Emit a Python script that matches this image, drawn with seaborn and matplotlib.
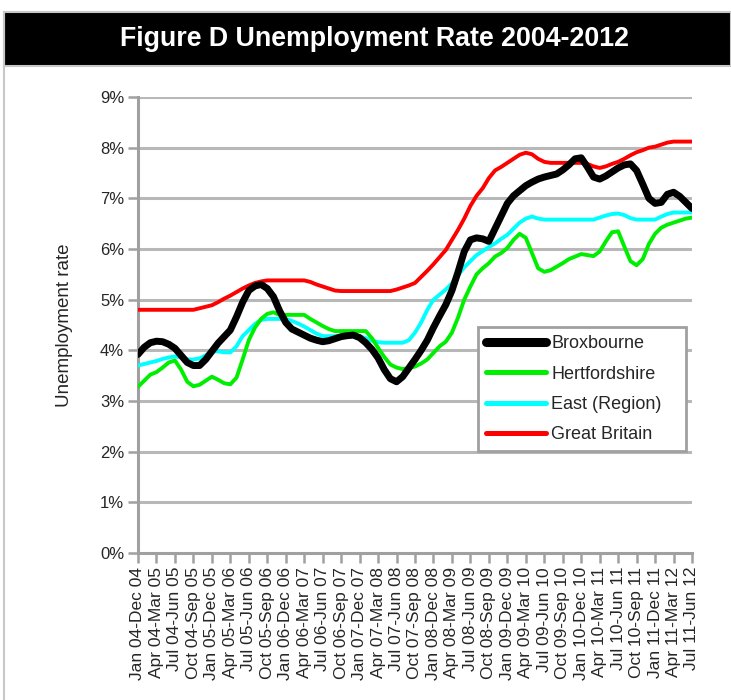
import numpy as np
import pandas as pd
import seaborn as sns
import matplotlib
matplotlib.use("Agg")
import matplotlib.pyplot as plt
from matplotlib.lines import Line2D
from matplotlib.patches import Rectangle

# Rolling 12-month unemployment rate (%), one value per month,
# from Jan 04-Dec 04 through Jul 11-Jun 12 (91 periods)
broxbourne = [
    3.92, 4.06, 4.15, 4.18, 4.17, 4.12, 4.04, 3.90, 3.76, 3.70,
    3.70, 3.82, 3.98, 4.14, 4.27, 4.40, 4.66, 4.95, 5.18, 5.27,
    5.30, 5.22, 5.06, 4.78, 4.55, 4.42, 4.36, 4.30, 4.24, 4.20,
    4.17, 4.19, 4.23, 4.27, 4.29, 4.30, 4.25, 4.15, 4.02, 3.85,
    3.62, 3.44, 3.38, 3.48, 3.65, 3.82, 4.00, 4.20, 4.45, 4.68,
    4.90, 5.18, 5.55, 5.95, 6.18, 6.22, 6.20, 6.15, 6.40, 6.65,
    6.90, 7.05, 7.15, 7.25, 7.32, 7.38, 7.42, 7.45, 7.48, 7.56,
    7.66, 7.78, 7.80, 7.62, 7.42, 7.38, 7.44, 7.52, 7.60, 7.66,
    7.68, 7.55, 7.28, 7.00, 6.90, 6.92, 7.08, 7.12, 7.04, 6.92,
    6.80,
]
hertfordshire = [
    3.28, 3.40, 3.52, 3.57, 3.66, 3.76, 3.80, 3.62, 3.38, 3.29,
    3.32, 3.40, 3.48, 3.42, 3.35, 3.33, 3.46, 3.82, 4.20, 4.45,
    4.62, 4.72, 4.75, 4.70, 4.70, 4.70, 4.70, 4.70, 4.62, 4.55,
    4.48, 4.42, 4.38, 4.38, 4.38, 4.38, 4.38, 4.38, 4.24, 4.05,
    3.87, 3.72, 3.66, 3.63, 3.65, 3.68, 3.74, 3.82, 3.95, 4.08,
    4.17, 4.35, 4.65, 5.00, 5.26, 5.50, 5.62, 5.72, 5.85, 5.92,
    6.02, 6.18, 6.30, 6.22, 5.92, 5.62, 5.55, 5.58, 5.65, 5.72,
    5.80, 5.85, 5.90, 5.88, 5.86, 5.95, 6.15, 6.33, 6.35, 6.05,
    5.76, 5.68, 5.80, 6.10, 6.30, 6.42, 6.48, 6.52, 6.56, 6.60,
    6.62,
]
east_region = [
    3.70, 3.73, 3.76, 3.79, 3.83, 3.86, 3.88, 3.86, 3.82, 3.82,
    3.84, 3.90, 3.98, 3.98, 3.96, 3.96, 4.08, 4.28, 4.40, 4.52,
    4.60, 4.62, 4.62, 4.62, 4.62, 4.58, 4.53, 4.47, 4.40, 4.33,
    4.28, 4.28, 4.28, 4.28, 4.28, 4.28, 4.28, 4.24, 4.19, 4.16,
    4.15, 4.15, 4.15, 4.15, 4.20, 4.35, 4.55, 4.80, 5.00, 5.10,
    5.20, 5.32, 5.48, 5.64, 5.76, 5.88, 5.96, 6.04, 6.11, 6.20,
    6.28, 6.40, 6.52, 6.60, 6.64, 6.60, 6.58, 6.58, 6.58, 6.58,
    6.58, 6.58, 6.58, 6.58, 6.58, 6.62, 6.66, 6.69, 6.70, 6.67,
    6.61, 6.58, 6.58, 6.58, 6.58, 6.64, 6.69, 6.72, 6.72, 6.72,
    6.72,
]
great_britain = [
    4.80, 4.80, 4.80, 4.80, 4.80, 4.80, 4.80, 4.80, 4.80, 4.80,
    4.83, 4.86, 4.89, 4.95, 5.02, 5.08, 5.15, 5.22, 5.28, 5.33,
    5.36, 5.38, 5.38, 5.38, 5.38, 5.38, 5.38, 5.38, 5.35, 5.30,
    5.26, 5.22, 5.18, 5.17, 5.17, 5.17, 5.17, 5.17, 5.17, 5.17,
    5.17, 5.17, 5.20, 5.24, 5.28, 5.33, 5.45, 5.57, 5.70, 5.84,
    5.98, 6.18, 6.38, 6.60, 6.85, 7.05, 7.20, 7.40, 7.55, 7.62,
    7.70, 7.78, 7.86, 7.90, 7.87, 7.78, 7.72, 7.70, 7.70, 7.70,
    7.70, 7.70, 7.70, 7.68, 7.63, 7.60, 7.63, 7.68, 7.72, 7.78,
    7.85, 7.91, 7.95, 8.00, 8.02, 8.06, 8.10, 8.12, 8.12, 8.12,
    8.12,
]

# Quarterly category labels shown on the x axis
period_labels = [
    "Jan 04-Dec 04", "Apr 04-Mar 05", "Jul 04-Jun 05", "Oct 04-Sep 05",
    "Jan 05-Dec 05", "Apr 05-Mar 06", "Jul 05-Jun 06", "Oct 05-Sep 06",
    "Jan 06-Dec 06", "Apr 06-Mar 07", "Jul 06-Jun 07", "Oct 06-Sep 07",
    "Jan 07-Dec 07", "Apr 07-Mar 08", "Jul 07-Jun 08", "Oct 07-Sep 08",
    "Jan 08-Dec 08", "Apr 08-Mar 09", "Jul 08-Jun 09", "Oct 08-Sep 09",
    "Jan 09-Dec 09", "Apr 09-Mar 10", "Jul 09-Jun 10", "Oct 09-Sep 10",
    "Jan 10-Dec 10", "Apr 10-Mar 11", "Jul 10-Jun 11", "Oct 10-Sep 11",
    "Jan 11-Dec 11", "Apr 11-Mar 12", "Jul 11-Jun 12",
]
series_names = ["Broxbourne", "Hertfordshire", "East (Region)", "Great Britain"]
y_ticks = [0, 1, 2, 3, 4, 5, 6, 7, 8, 9]

colors = {"Broxbourne": "#000000", "Hertfordshire": "#00ee00",
          "East (Region)": "#00ffff", "Great Britain": "#ff0000"}
widths = {"Broxbourne": 5.0, "Hertfordshire": 2.8,
          "East (Region)": 2.8, "Great Britain": 2.8}

month = np.arange(len(broxbourne))
df = pd.DataFrame({
    "month": np.tile(month, 4),
    "rate": broxbourne + hertfordshire + east_region + great_britain,
    "series": np.repeat(series_names, len(month)),
})

sns.set_theme(style="white")
plt.rcParams["font.family"] = ["Liberation Sans", "DejaVu Sans"]

fig = plt.figure(figsize=(7.31, 7.00), dpi=100)
ax = fig.add_axes([138 / 731, 1 - 553 / 700, 554 / 731, 456 / 700])

# Draw Great Britain first so Broxbourne ends on top
for name in ["Great Britain", "East (Region)", "Hertfordshire", "Broxbourne"]:
    sns.lineplot(data=df[df["series"] == name], x="month", y="rate",
                 color=colors[name], linewidth=widths[name], ax=ax,
                 solid_capstyle="round", solid_joinstyle="round",
                 label=name, zorder=3 + (name == "Broxbourne"))

grid_col = "#b8b8b8"
axis_col = "#a0a0a0"
ax.set_xlim(0, len(month) - 1)
ax.set_ylim(0, 9)
ax.set_yticks(y_ticks)
ax.set_yticklabels([f"{v}%" for v in y_ticks], fontsize=12)
ax.set_xticks(np.arange(0, len(month), 3))
ax.set_xticklabels(period_labels, rotation=90, fontsize=12.5)
for v in y_ticks[1:]:
    ax.axhline(v, color=grid_col, linewidth=2.2, zorder=1)
ax.set_xlabel("")
ax.set_ylabel("Unemployment rate", fontsize=13.5, labelpad=19)

for side in ["top", "right"]:
    ax.spines[side].set_visible(False)
for side in ["left", "bottom"]:
    ax.spines[side].set_color(axis_col)
    ax.spines[side].set_linewidth(2.2)
ax.tick_params(axis="both", which="major", direction="out", length=7,
               width=1.8, color=axis_col, pad=3, left=True, bottom=True)

handles = [Line2D([0], [0], color=colors[n],
                  linewidth=widths[n] + (1.5 if n == "Broxbourne" else 0.8),
                  solid_capstyle="round") for n in series_names]
leg = ax.legend(handles, series_names, loc="upper left", mode="expand",
                bbox_to_anchor=(0.6137, 0.2105, 0.3755, 0.285),
                fontsize=13, frameon=True, fancybox=False,
                handlelength=3.3, handletextpad=0.3,
                labelspacing=0.74, borderpad=0.45, borderaxespad=0)
leg.get_frame().set_edgecolor("#a0a0a0")
leg.get_frame().set_linewidth(2.0)
leg.get_frame().set_facecolor("white")
leg.get_frame().set_alpha(1)
leg.set_zorder(10)

# Title banner and surrounding frame
fig.patches.append(Rectangle((4 / 731, 1 - 66 / 700), 1 - 4 / 731, 54 / 700,
                             transform=fig.transFigure, facecolor="black",
                             edgecolor="#c8c8c8", linewidth=1.5, zorder=0))
fig.lines.append(Line2D([4 / 731, 4 / 731], [0, 1 - 12 / 700],
                        transform=fig.transFigure, color="#c8c8c8", linewidth=1.5))
fig.text(374 / 731, 1 - 39 / 700, "Figure D Unemployment Rate 2004-2012",
         color="white", fontsize=19.3, fontweight="bold", ha="center", va="center")

fig.savefig("out.png", dpi=100, facecolor="white")
